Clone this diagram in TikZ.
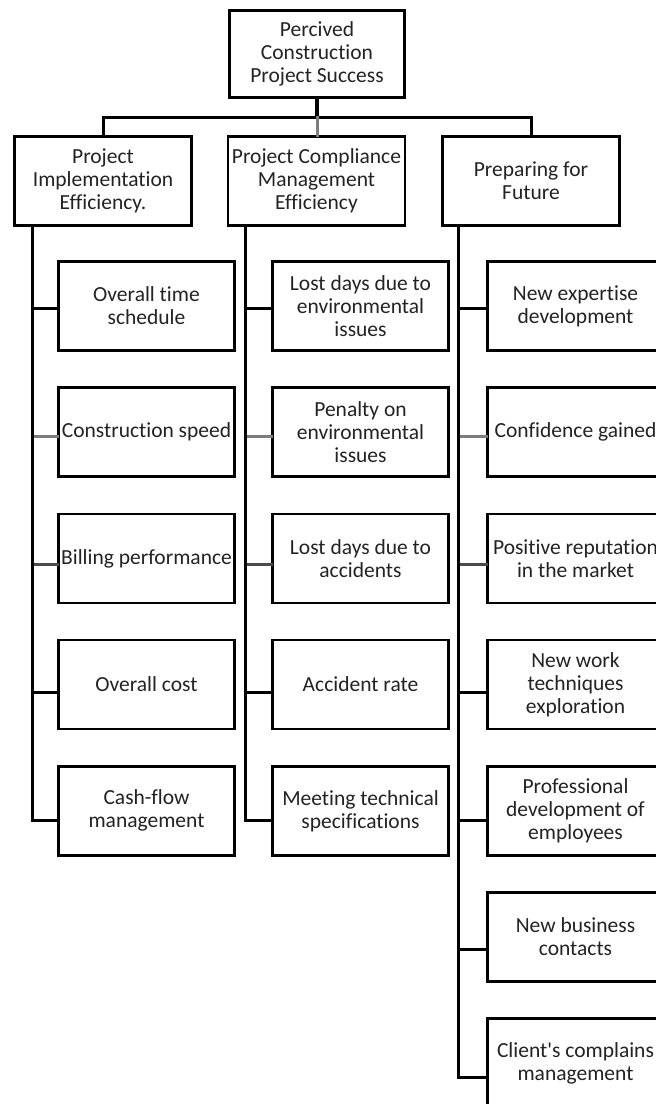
\documentclass[tikz,border=0pt]{standalone}
\usepackage{fontspec}
\setmainfont[Ligatures={NoCommon,NoContextual}]{Carlito}
\usepackage{tikz}
\usetikzlibrary{positioning}
\definecolor{pcGrey}{RGB}{125,125,125}
\definecolor{pcDark}{RGB}{75,75,75}
\definecolor{pcText}{RGB}{35,35,35}
\tikzset{
  pcbox/.style={draw=black, line width=2.6pt, fill=white, align=center, inner sep=1pt,
    text=pcText, font=\fontsize{21.5}{23}\selectfont,
    append after command={
      [draw=black, line width=1.4pt]
      ([shift={(-0.6pt,-1.6pt)}]\tikzlastnode.south west) -- ([shift={(1.6pt,-1.6pt)}]\tikzlastnode.south east)
      -- ([shift={(1.6pt,0.6pt)}]\tikzlastnode.north east)}},
  topbox/.style={pcbox, minimum width=175pt, minimum height=87pt},
  catbox/.style={pcbox, minimum width=177pt, minimum height=89pt},
  itembox/.style={pcbox, minimum width=176pt, minimum height=89pt},
  link/.style={draw=black, line width=3pt, line cap=rect},
}

\begin{document}
\begin{tikzpicture}[x=1pt,y=-1pt]
    \useasboundingbox (0,0) rectangle (656,1104);
    \clip (0,0) rectangle (656,1104);

    \node[topbox] (pcs) at (317,54) {Percived\\Construction\\Project Success};
    \node[catbox] (pie) at (103,181) {Project\\Implementation\\Efficiency.};
    \node[catbox] (pcm) at (316.5,181) {Project Compliance\\Management\\Efficiency};
    \node[catbox] (pff) at (531,181) {Preparing for\\Future};

    \coordinate (bus) at (0,117);
    \draw[link, line width=4pt] (pcs.south) -- (pcs.south |- bus);
    \draw[link] (pie.north) |- (pff.north |- bus) -- (pff.north);
    \draw[link, draw=pcGrey] (pcs.south |- bus) -- (pcs.south |- pcm.north);

    \foreach \txt [count=\i from 0] in {{Overall time\\schedule},{Construction speed},
        {Billing performance},{Overall cost},{Cash-flow\\management}}
        \node[itembox] (pie\i) at (146.5,{306+126.2*\i}) {\txt};
    \foreach \txt [count=\i from 0] in {{Lost days due to\\environmental\\issues},
        {Penalty on\\environmental\\issues},{Lost days due to\\accidents},
        {Accident rate},{Meeting technical\\specifications}}
        \node[itembox] (pcm\i) at (360.5,{306+126.2*\i}) {\txt};
    \foreach \txt [count=\i from 0] in {{New expertise\\development},{Confidence gained},
        {Positive reputation\\in the market},{New work\\techniques\\exploration},
        {Professional\\development of\\employees},{New business\\contacts},
        {Client\textquotesingle s complains\\management}}
        \node[itembox] (pff\i) at (575.5,{306+126.2*\i}) {\txt};

    \coordinate (pieT) at ([xshift=19pt]pie.south west);
    \coordinate (pcmT) at ([xshift=19pt]pcm.south west);
    \coordinate (pffT) at ([xshift=17pt]pff.south west);

    \foreach \col/\last in {pie/4,pcm/4,pff/6} {
        \foreach \i/\c in {0/black,1/pcGrey,2/pcDark,3/black,4/black,5/black,6/black} {
            \ifnum\i>\last\else
                \coordinate (\col C\i) at ([yshift={-(2+2*\i)*1pt}]\col\i.west);
                \draw[link, draw=\c] (\col T |- \col C\i) -- (\col C\i);
            \fi
        }
        \draw[link] (\col T) -- (\col T |- \col C\last);
    }
\end{tikzpicture}
\end{document}
